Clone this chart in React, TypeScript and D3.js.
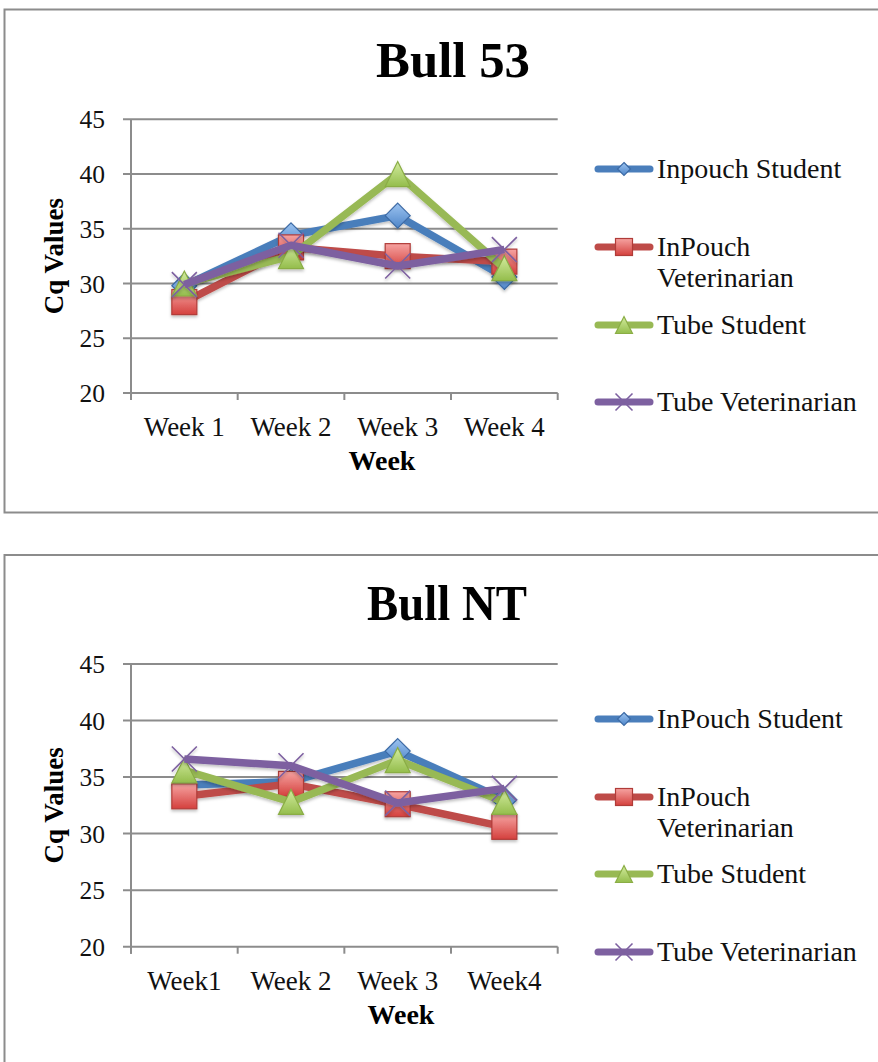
import * as d3 from 'd3';

const yTicks = [20, 25, 30, 35, 40, 45];

const weeks53 = ['Week 1', 'Week 2', 'Week 3', 'Week 4'];
const weeksNT = ['Week1', 'Week 2', 'Week 3', 'Week4'];

const names53 = ['Inpouch Student', 'InPouch Veterinarian', 'Tube Student', 'Tube Veterinarian'];
const namesNT = ['InPouch Student', 'InPouch Veterinarian', 'Tube Student', 'Tube Veterinarian'];

// Bull 53
const b53InpouchStudent = [29.8, 34.4, 36.2, 30.6];
const b53InpouchVet = [28.3, 33.3, 32.5, 32.0];
const b53TubeStudent = [30.0, 32.5, 40.0, 31.4];
const b53TubeVet = [29.9, 33.5, 31.6, 33.1];

// Bull NT
const ntInpouchStudent = [34.3, 34.6, 37.3, 33.0];
const ntInpouchVet = [33.3, 34.4, 32.6, 30.6];
const ntTubeStudent = [35.6, 32.8, 36.5, 32.8];
const ntTubeVet = [36.6, 36.0, 32.7, 34.0];

const seriesStyle = [
  { color: '#4a7ebb', marker: 'diamond', grad: 'gBlue', edge: '#3c6aa5' },
  { color: '#be4b48', marker: 'square', grad: 'gRed', edge: '#b03c39' },
  { color: '#98b954', marker: 'triangle', grad: 'gGreen', edge: '#8aad45' },
  { color: '#7d60a0', marker: 'x', grad: '', edge: '#7d60a0' },
];

const FONT = '"Liberation Serif", "Times New Roman", serif';
const GRID = '#8c8c8c';

type MarkerProps = { kind: string; cx: number; cy: number; s: number; grad: string; edge: string };

const Marker = ({ kind, cx, cy, s, grad, edge }: MarkerProps) => {
  if (kind === 'diamond') {
    return (
      <path
        d={`M${cx},${cy - s}L${cx + s},${cy}L${cx},${cy + s}L${cx - s},${cy}Z`}
        fill={`url(#${grad})`}
        stroke={edge}
        strokeWidth={1.2}
      />
    );
  }
  if (kind === 'square') {
    return (
      <rect x={cx - s} y={cy - s} width={2 * s} height={2 * s} fill={`url(#${grad})`} stroke={edge} strokeWidth={1.2} />
    );
  }
  if (kind === 'triangle') {
    return (
      <path
        d={`M${cx},${cy - s}L${cx + s},${cy + s}L${cx - s},${cy + s}Z`}
        fill={`url(#${grad})`}
        stroke={edge}
        strokeWidth={1.2}
      />
    );
  }
  return (
    <path
      d={`M${cx - s},${cy - s}L${cx + s},${cy + s}M${cx + s},${cy - s}L${cx - s},${cy + s}`}
      stroke={edge}
      strokeWidth={1.6}
      fill="none"
    />
  );
};

type ChartProps = {
  top: number;
  title: string;
  titleX: number;
  titleY: number;
  titleWidth: number;
  weeks: string[];
  names: string[];
  values: number[][];
  y0: number;
  y1: number;
  weekTitleX: number;
  legendY: number[];
};

const Chart = ({
  top,
  title,
  titleX,
  titleY,
  titleWidth,
  weeks,
  names,
  values,
  y0,
  y1,
  weekTitleX,
  legendY,
}: ChartProps) => {
  const x = d3.scaleBand<string>().domain(weeks).range([131, 557.7]);
  const y = d3.scaleLinear().domain([20, 45]).range([y0, y1]);
  const cx = (w: string) => (x(w) || 0) + x.bandwidth() / 2;
  const line = d3
    .line<number>()
    .x((_, i) => cx(weeks[i]))
    .y((d) => y(d));

  const boundaries = [...weeks.map((w) => x(w) || 0), 557.7];

  return (
    <g>
      <rect x={4.5} y={top} width={900} height={top > 100 ? 600 : 503} fill="white" stroke={GRID} strokeWidth={2} />
      <text
        x={titleX}
        y={titleY}
        textAnchor="middle"
        fontFamily={FONT}
        fontWeight="bold"
        fontSize={51}
        textLength={titleWidth}
        lengthAdjust="spacingAndGlyphs"
      >
        {title}
      </text>

      {yTicks.map((t) => (
        <g key={t}>
          <line x1={123} x2={557.7} y1={y(t)} y2={y(t)} stroke={GRID} strokeWidth={2} />
          <text x={105} y={y(t) + 9} textAnchor="end" fontFamily={FONT} fontSize={25.5} fill="#111">
            {t}
          </text>
        </g>
      ))}
      <line x1={131} x2={131} y1={y(45)} y2={y(20) + 7} stroke={GRID} strokeWidth={2} />
      {boundaries.map((b, i) => (
        <line key={i} x1={b} x2={b} y1={y(20)} y2={y(20) + 7} stroke={GRID} strokeWidth={2} />
      ))}
      {weeks.map((w) => (
        <text key={w} x={cx(w)} y={y(20) + 43} textAnchor="middle" fontFamily={FONT} fontSize={27} fill="#111">
          {w}
        </text>
      ))}
      <text x={weekTitleX} y={y(20) + 77} textAnchor="middle" fontFamily={FONT} fontWeight="bold" fontSize={28}>
        Week
      </text>
      <text
        transform={`translate(63, ${(y(20) + y(45)) / 2}) rotate(-90)`}
        textAnchor="middle"
        fontFamily={FONT}
        fontWeight="bold"
        fontSize={27}
      >
        Cq Values
      </text>

      {values.map((vals, si) => {
        const st = seriesStyle[si];
        return (
          <g key={si} filter="url(#shadow)">
            <path d={line(vals) || ''} fill="none" stroke={st.color} strokeWidth={7.5} strokeLinejoin="round" />
            {vals.map((v, i) => (
              <Marker key={i} kind={st.marker} cx={cx(weeks[i])} cy={y(v)} s={12.5} grad={st.grad} edge={st.edge} />
            ))}
          </g>
        );
      })}

      {names.map((n, si) => {
        const st = seriesStyle[si];
        const ly = legendY[si];
        const words = n === 'InPouch Veterinarian' ? ['InPouch', 'Veterinarian'] : [n];
        return (
          <g key={n}>
            <line x1={598} x2={650} y1={ly} y2={ly} stroke={st.color} strokeWidth={7} strokeLinecap="round" />
            <Marker
              kind={st.marker}
              cx={624}
              cy={ly}
              s={st.marker === 'diamond' ? 6.5 : 8.5}
              grad={st.grad}
              edge={st.edge}
            />
            <text x={657} y={ly + 9} fontFamily={FONT} fontSize={28} fill="#111">
              {words.map((w, k) => (
                <tspan key={k} x={657} dy={k === 0 ? 0 : 31}>
                  {w}
                </tspan>
              ))}
            </text>
          </g>
        );
      })}
    </g>
  );
};

const App = () => {
  return (
    <svg
      width={878}
      height={1062}
      style={{ position: 'absolute', left: 0, top: 0, background: 'white' }}
    >
      <defs>
        <linearGradient id="gBlue" x1="0" y1="0" x2="0" y2="1">
          <stop offset="0%" stopColor="#9cc3f0" />
          <stop offset="100%" stopColor="#4f86c9" />
        </linearGradient>
        <linearGradient id="gRed" x1="0" y1="0" x2="0" y2="1">
          <stop offset="0%" stopColor="#f6a3a1" />
          <stop offset="100%" stopColor="#d4403d" />
        </linearGradient>
        <linearGradient id="gGreen" x1="0" y1="0" x2="0" y2="1">
          <stop offset="0%" stopColor="#d3ec9f" />
          <stop offset="100%" stopColor="#94bd4c" />
        </linearGradient>
        <filter id="shadow" x="-10%" y="-10%" width="120%" height="130%">
          <feDropShadow dx={0} dy={2} stdDeviation={1.5} floodColor="#000" floodOpacity={0.25} />
        </filter>
      </defs>
      <Chart
        top={9.5}
        title="Bull 53"
        titleX={453}
        titleY={77}
        titleWidth={154}
        weeks={weeks53}
        names={names53}
        values={[b53InpouchStudent, b53InpouchVet, b53TubeStudent, b53TubeVet]}
        y0={393}
        y1={119.3}
        weekTitleX={382}
        legendY={[169, 247, 325, 402]}
      />
      <Chart
        top={555}
        title="Bull NT"
        titleX={447}
        titleY={620}
        titleWidth={160}
        weeks={weeksNT}
        names={namesNT}
        values={[ntInpouchStudent, ntInpouchVet, ntTubeStudent, ntTubeVet]}
        y0={946.7}
        y1={664}
        weekTitleX={401}
        legendY={[719, 797, 874, 952]}
      />
    </svg>
  );
};

export default App;
